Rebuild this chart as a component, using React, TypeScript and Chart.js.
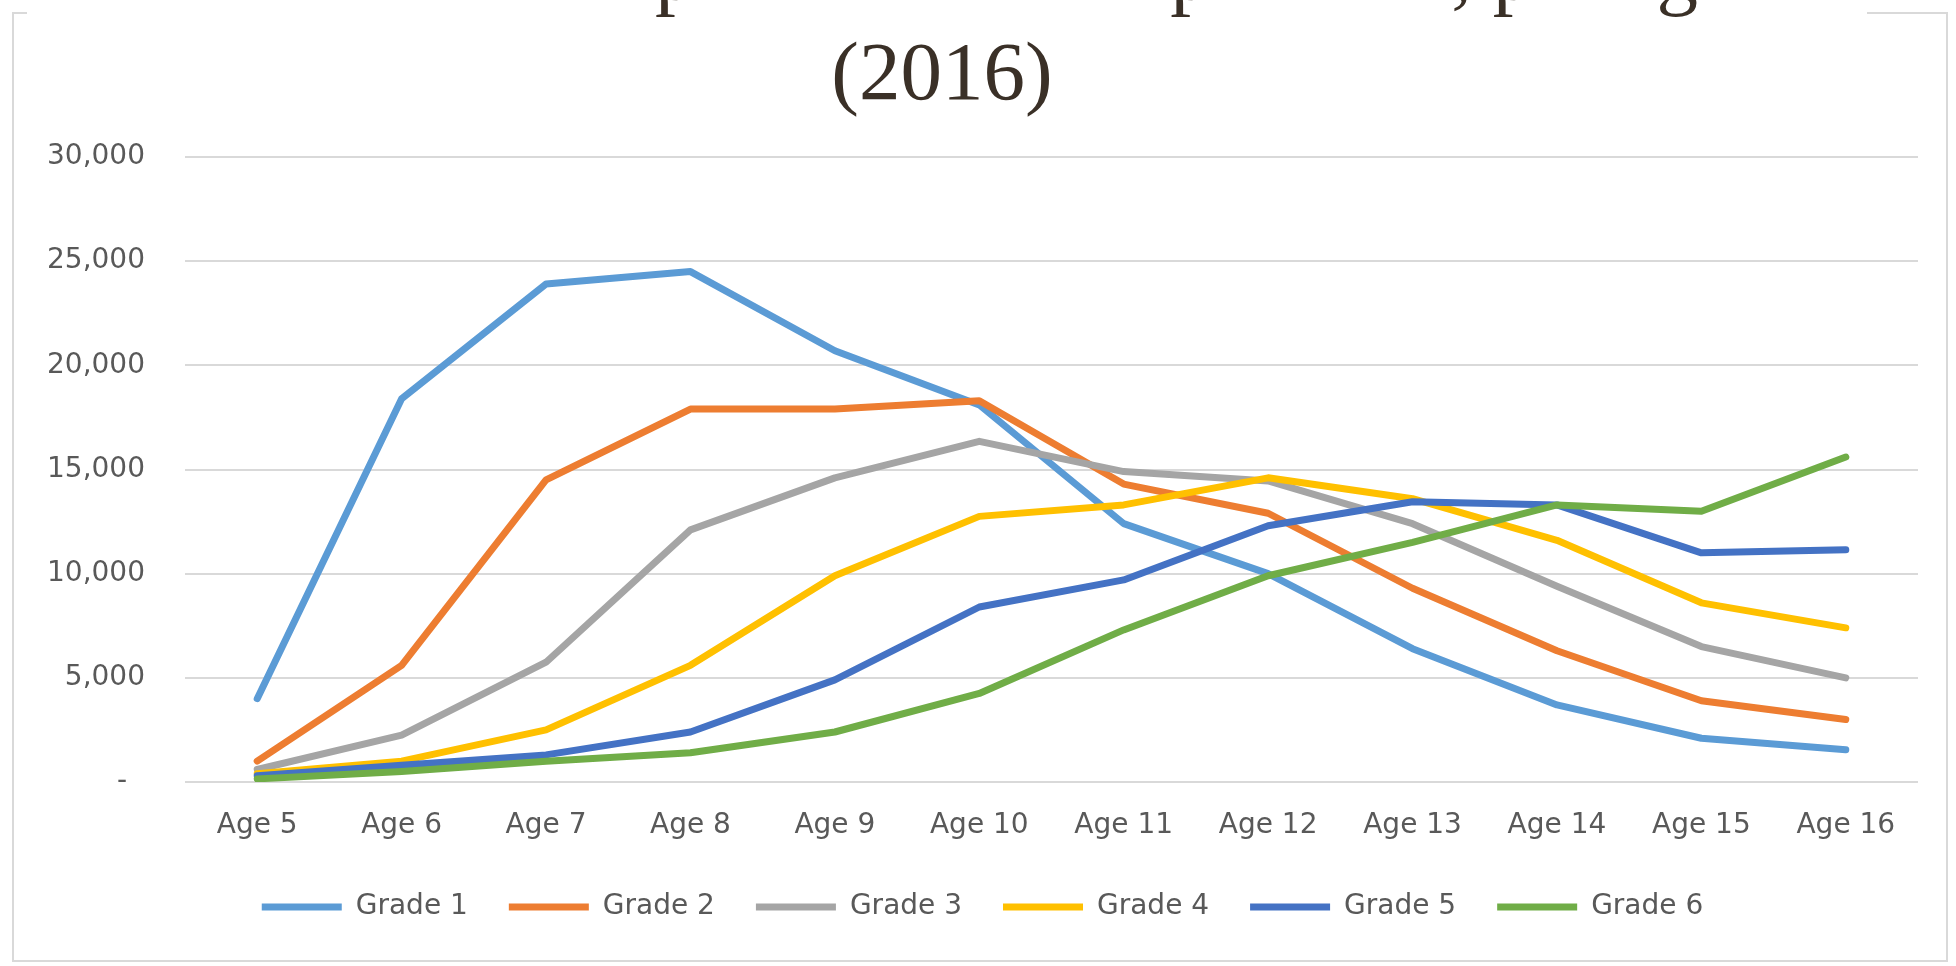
import React, { useEffect, useRef } from "react";
import { Chart, registerables } from "chart.js";

Chart.register(...registerables);

const titleLines = ["Total des inscriptions à l'école primaire, par âge", "(2016)"];
const categories = ["Age 5", "Age 6", "Age 7", "Age 8", "Age 9", "Age 10", "Age 11", "Age 12", "Age 13", "Age 14", "Age 15", "Age 16"];
const seriesNames = ["Grade 1", "Grade 2", "Grade 3", "Grade 4", "Grade 5", "Grade 6"];
const grade1 = [4000, 18400, 23900, 24500, 20700, 18100, 12400, 10000, 6400, 3700, 2100, 1550];
const grade2 = [1000, 5600, 14500, 17900, 17900, 18300, 14300, 12900, 9300, 6300, 3900, 3000];
const grade3 = [600, 2250, 5750, 12100, 14600, 16350, 14900, 14450, 12400, 9400, 6500, 5000];
const grade4 = [400, 1000, 2500, 5600, 9900, 12750, 13300, 14600, 13600, 11600, 8600, 7400];
const grade5 = [300, 800, 1300, 2400, 4900, 8400, 9700, 12300, 13450, 13300, 11000, 11150];
const grade6 = [150, 500, 1000, 1400, 2400, 4250, 7300, 9900, 11500, 13300, 13000, 15600];
const seriesColors = ["#5B9BD5", "#ED7D31", "#A5A5A5", "#FFC000", "#4472C4", "#70AD47"];
const yTicks = [0, 5000, 10000, 15000, 20000, 25000, 30000];

const allSeries = [grade1, grade2, grade3, grade4, grade5, grade6];

export default function App() {
  const canvasRef = useRef<HTMLCanvasElement | null>(null);

  useEffect(() => {
    if (!canvasRef.current) return;
    const datasets = allSeries.map((data, i) => ({
      label: seriesNames[i],
      data,
      borderColor: seriesColors[i],
      backgroundColor: seriesColors[i],
      borderWidth: 7,
      pointRadius: 0,
      tension: 0,
      borderCapStyle: "round" as const,
      borderJoinStyle: "round" as const,
      order: allSeries.length - i,
    }));
    const chart = new Chart(canvasRef.current, {
      type: "line",
      data: { labels: categories, datasets },
      options: {
        animation: false,
        responsive: true,
        maintainAspectRatio: false,
        layout: { padding: { left: 47, right: 38, top: 157, bottom: 35 } },
        plugins: {
          tooltip: { enabled: false },
          title: { display: false },
          legend: {
            position: "bottom",
            labels: {
              boxWidth: 80,
              boxHeight: 7,
              padding: 41,
              color: "#595959",
              font: { family: "'DejaVu Sans', sans-serif", size: 28 },
              generateLabels: (c: any) =>
                Chart.defaults.plugins.legend.labels
                  .generateLabels(c)
                  .sort((a: any, b: any) => a.datasetIndex - b.datasetIndex)
                  .map((l: any) => ({ ...l, lineWidth: 0, fillStyle: l.strokeStyle })),
            },
          },
        },
        scales: {
          x: {
            offset: true,
            grid: { display: false, drawTicks: false },
            border: { display: false },
            ticks: {
              color: "#595959",
              padding: 27,
              maxRotation: 0,
              autoSkip: false,
              font: { family: "'DejaVu Sans', sans-serif", size: 28 },
            },
            afterFit: (scale: any) => {
              scale.height = 70;
            },
          },
          y: {
            min: 0,
            max: 30000,
            afterBuildTicks: (scale: any) => {
              scale.ticks = yTicks.map((v) => ({ value: v }));
            },
            afterFit: (scale: any) => {
              scale.width = 138;
            },
            grid: { color: "#d9d9d9", lineWidth: 2, drawTicks: false },
            border: { display: false },
            ticks: {
              color: "#595959",
              padding: 40,
              font: { family: "'DejaVu Sans', sans-serif", size: 28 },
              callback: (v: any) => (Number(v) === 0 ? "-  " : Number(v).toLocaleString("en-US")),
            },
          },
        },
      },
    });
    return () => chart.destroy();
  }, []);

  return (
    <div style={{ position: "fixed", left: 0, top: 0, width: 1956, height: 966, overflow: "hidden", background: "#ffffff" }}>
      <div
        style={{
          position: "absolute",
          left: 12,
          top: 12,
          width: 1932,
          height: 946,
          border: "2px solid #d9d9d9",
        }}
      />
      <div style={{ position: "absolute", left: 27, top: 0, width: 1840, height: 40, background: "#ffffff" }} />
      <div style={{ position: "absolute", left: 0, top: 0, width: 1956, height: 966 }}>
        <canvas ref={canvasRef} />
      </div>
      <div
        style={{
          position: "absolute",
          left: 0,
          top: -78,
          width: 1884,
          textAlign: "center",
          fontFamily: "'Liberation Serif', 'Times New Roman', serif",
          fontSize: 83,
          lineHeight: "99.6px",
          color: "#3a3027",
          whiteSpace: "nowrap",
        }}
      >
        {titleLines.map((t, i) => (
          <div key={i}>{t}</div>
        ))}
      </div>
    </div>
  );
}
